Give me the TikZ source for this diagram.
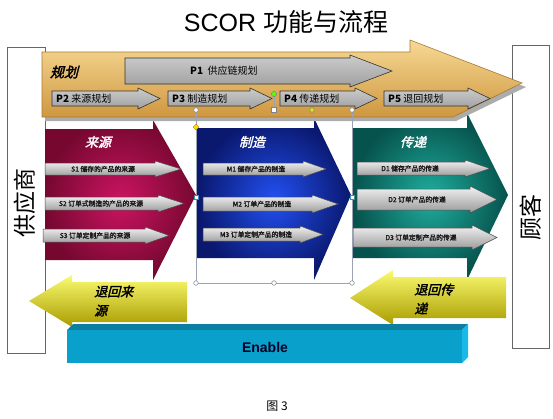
\documentclass[tikz,border=0pt]{standalone}
\usepackage{fontspec}
\setmainfont{Liberation Sans}
\newfontfamily\cjk{Noto Sans CJK SC}
\newfontfamily\cjkb[FakeBold=2]{Noto Sans CJK SC}
\newfontfamily\cjkbi[FakeBold=2,FakeSlant=0.25]{Noto Sans CJK SC}
\definecolor{crimD}{HTML}{760830}
\definecolor{crimL}{HTML}{CC1462}
\definecolor{bluD}{HTML}{0A186E}
\definecolor{bluL}{HTML}{2250F2}
\definecolor{grnD}{HTML}{06524C}
\definecolor{grnL}{HTML}{1FAE9E}
\definecolor{orL}{HTML}{F7D995}
\definecolor{orM}{HTML}{EAB45A}
\definecolor{orD}{HTML}{CF9740}
\definecolor{orB}{HTML}{A87A30}
\definecolor{yelL}{HTML}{FBFB70}
\definecolor{yelM}{HTML}{EEEC00}
\definecolor{yelD}{HTML}{A89C00}
\definecolor{enFront}{HTML}{0AA0CC}
\definecolor{enTop}{HTML}{0B7EA2}
\definecolor{enSide}{HTML}{17B9E8}
\definecolor{selc}{HTML}{9AA2B4}
\newcommand{\blockarrow}[9]{\path[#1] (#2,#4)--(#3,#4)--(#3,#6)--(#8,#9)--(#3,#7)--(#3,#5)--(#2,#5)--cycle;}
\tikzset{
  crim/.style={inner color=crimL, outer color=crimD},
  blu/.style={inner color=bluL, outer color=bluD},
  grn/.style={inner color=grnL, outer color=grnD},
  yel/.style={top color=yelL, middle color=yelM, bottom color=yelD},
  orng/.style={top color=orL, middle color=orM, bottom color=orD, draw=orB, line width=0.6pt},
  parrow/.style={draw=black!80, line width=0.6pt, top color=gray!40, bottom color=gray!75},
  garrow/.style={draw=black!70, line width=0.5pt, top color=gray!10, middle color=gray!38, bottom color=gray!80},
  sidebox/.style={draw=gray!80!black, line width=0.7pt, fill=white},
  ptext/.style={anchor=west, inner sep=0pt, font=\fontsize{10}{10}\selectfont\cjk},
  stext/.style={inner sep=0pt, text=black!90, font=\fontsize{6.8}{6.8}\selectfont\cjkb},
  coltitle/.style={inner sep=0pt, text=white, font=\fontsize{13}{13}\selectfont\cjkbi},
  ytext/.style={anchor=west, align=left, inner sep=0pt, font=\fontsize{13}{19}\selectfont\cjkbi},
  sel/.style={draw=selc, line width=0.6pt},
  handle/.style={draw=selc!80!black, fill=white, line width=0.5pt}
}
\begin{document}
\begin{tikzpicture}[x=1pt,y=-1pt]
\useasboundingbox (0,0) rectangle (553,418);
\fill[white] (0,0) rectangle (553,418);
% side boxes
\path[sidebox] (7,47) rectangle (45,353);
\path[sidebox] (512,45) rectangle (549,348);
% column arrows
\blockarrow{crim}{45}{153}{129}{260}{120}{280}{196}{195}
\blockarrow{blu}{197}{314}{128}{258}{118}{280}{351}{195}
\blockarrow{grn}{352}{467}{128}{258}{113}{280}{508}{195}
% planning arrow
\path[fill=gray!65] (45,56)--(413,56)--(413,44)--(526,87)--(456,121)--(45,121)--cycle;
\path[orng] (42,52)--(410,52)--(410,40)--(522,83)--(453,117)--(42,117)--cycle;
% P arrows
\blockarrow{parrow}{125}{350}{58}{84}{55}{87}{392}{71}
\blockarrow{parrow}{52}{138}{91}{106}{88}{109}{160}{98.5}
\blockarrow{parrow}{168}{250}{91}{106}{88}{109}{272}{98.5}
\blockarrow{parrow}{280}{355}{91}{106}{88}{109}{377}{98.5}
\blockarrow{parrow}{384}{468}{91}{106}{88}{109}{490}{98.5}
% small process arrows
\blockarrow{garrow}{45}{155}{163}{175}{161}{177}{181}{169}
\blockarrow{garrow}{45}{158}{197}{210}{195}{212}{184}{203.5}
\blockarrow{garrow}{43}{145}{229}{242}{227}{244}{169}{235.5}
\blockarrow{garrow}{203}{303}{163}{175}{161}{177}{326}{169}
\blockarrow{garrow}{203}{312}{197}{211}{195}{213}{338}{204}
\blockarrow{garrow}{203}{300}{228}{241}{226}{243}{323}{234.5}
\blockarrow{garrow}{357}{465}{162}{175}{160}{177}{490}{168.5}
\blockarrow{garrow}{357}{470}{189}{210}{186}{213}{497}{199.5}
\blockarrow{garrow}{353}{472}{228}{247}{225}{250}{497}{237.5}
% return arrows
\blockarrow{yel}{187}{72}{282}{322}{275}{327}{29}{301}
\blockarrow{yel}{506}{393}{277}{318}{270}{325}{350}{298}
% Enable box
\fill[enTop] (67,330)--(73,324)--(468,324)--(462,330)--cycle;
\fill[enSide] (462,330)--(468,324)--(468,357)--(462,363)--cycle;
\fill[enFront] (67,330) rectangle (462,363);
% selection overlay
\draw[sel] (196,110)--(196,283)--(352,283)--(352,110);
\draw[sel] (274,94)--(274,110);
\foreach \p in {(196,110),(352,110),(196,283),(274,283),(352,283)}
  \path[handle] \p circle (2.3);
\path[handle] (271.7,107.7) rectangle (276.3,112.3);
\path[handle, fill=yellow!85!green] (312,110) circle (2.3);
\path[handle, fill=green!65!yellow] (274,94) circle (2.6);
\path[handle, draw=cyan!70!black] (194,195) rectangle (198,199);
\path[handle, draw=cyan!70!black] (350,195) rectangle (354,199);
\path[fill=yellow!80!orange, draw=orange!70!black, line width=0.3pt] (196,124)--(199,127)--(196,130)--(193,127)--cycle;
% texts
\node[font=\fontsize{25}{25}\selectfont] (title) at (286,22) {SCOR {\cjk 功能与流程}};
\node[rotate=90, font=\fontsize{23}{23}\selectfont\cjk] (supplier) at (25,203) {供应商};
\node[rotate=90, font=\fontsize{23}{23}\selectfont\cjk] (customer) at (531,217) {顾客};
\node[inner sep=0pt, font=\fontsize{14}{14}\selectfont\cjkbi] (plan) at (64,72) {规划};
\node[ptext] (p1) at (190,71) {\textbf{P1}\ \ 供应链规划};
\node[ptext] (p2) at (56,98.5) {\textbf{P2}\ 来源规划};
\node[ptext] (p3) at (172,98.5) {\textbf{P3}\ 制造规划};
\node[ptext] (p4) at (284,98.5) {\textbf{P4}\ 传递规划};
\node[ptext] (p5) at (388,98.5) {\textbf{P5}\ 退回规划};
\node[coltitle] (source) at (98,142) {来源};
\node[coltitle] (make) at (252,142) {制造};
\node[coltitle] (deliver) at (413,142) {传递};
\node[stext] (s1) at (103,169) {S1 储存的产品的来源};
\node[stext] (s2) at (101,203.5) {S2 订单式制造的产品的来源};
\node[stext] (s3) at (95,235.5) {S3 订单定制产品的来源};
\node[stext] (m1) at (256,169) {M1 储存产品的制造};
\node[stext] (m2) at (262,204) {M2 订单产品的制造};
\node[stext] (m3) at (256,234.5) {M3 订单定制产品的制造};
\node[stext] (d1) at (410,168.5) {D1 储存产品的传递};
\node[stext] (d2) at (417,199.5) {D2 订单产品的传递};
\node[stext] (d3) at (421,237.5) {D3 订单定制产品的传递};
\node[ytext] (rs) at (94,301) {退回来\\源};
\node[ytext] (rd) at (414,299) {退回传\\递};
\node[font=\fontsize{14}{14}\selectfont\bfseries, text=black!85!blue] (enable) at (265,347) {Enable};
\node[font=\fontsize{12}{12}\selectfont\cjk] (cap) at (277,406) {图 3};
\end{tikzpicture}
\end{document}
